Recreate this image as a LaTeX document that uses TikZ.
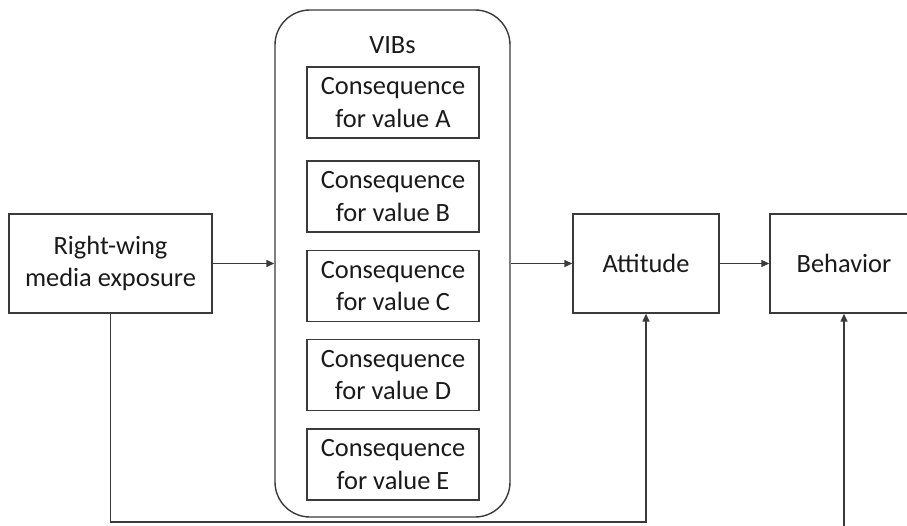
\documentclass[tikz,border=0pt]{standalone}
\usepackage{fontspec}
\setmainfont{Carlito}
\usetikzlibrary{arrows.meta}
\definecolor{linecol}{HTML}{3A3A3A}
\definecolor{txtcol}{HTML}{1A1A1A}
\begin{document}
\begin{tikzpicture}[x=1bp,y=-1bp,
  every node/.style={text=txtcol, font=\fontsize{26.5}{33}\selectfont},
  box/.style={draw=linecol, line width=1.4bp, rectangle, align=center, inner sep=0pt},
  cbox/.style={box, minimum width=172bp, minimum height=71bp},
  conn/.style={draw=linecol, line width=1.4bp},
  arr/.style={conn, -{Triangle[length=8bp,width=7bp]}}]
\useasboundingbox (0,0) rectangle (907,526);
\clip (0,0) rectangle (907,526);
\node[box, minimum width=203bp, minimum height=99bp] (rw) at (110.5,263.5) {Right-wing\\media exposure};
\node[box, rounded corners=35bp, minimum width=235bp, minimum height=507bp] (vib) at (392.5,263.5) {};
\node (vl) at (392.5,45) {VIBs};
\node[cbox] (ca) at (393,102.5) {Consequence\\for value A};
\node[cbox] (cb) at (393,196.5) {Consequence\\for value B};
\node[cbox] (cc) at (393,286) {Consequence\\for value C};
\node[cbox] (cd) at (393,375) {Consequence\\for value D};
\node[cbox] (ce) at (393,464.5) {Consequence\\for value E};
\node[box, minimum width=146bp, minimum height=99bp] (att) at (646,263.5) {Attitude};
\node[box, minimum width=148bp, minimum height=99bp] (beh) at (844,263.5) {Behavior};
\coordinate (bl) at (110.5,522);
\coordinate (bb) at (844,540);
\draw[arr] (rw.east) -- (vib.west);
\draw[arr] (vib.east) -- (att.west);
\draw[arr] (att.east) -- (beh.west);
\draw[arr] (rw.south) -- (bl) -- (bl -| att.south) -- (att.south);
\draw[arr] (bb) -- (beh.south);
\end{tikzpicture}
\end{document}
